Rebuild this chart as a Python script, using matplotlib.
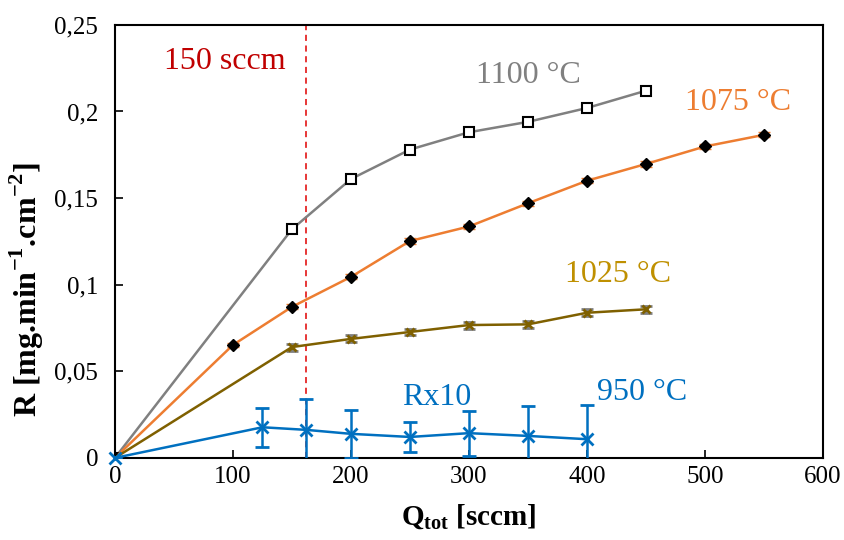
import matplotlib
matplotlib.use("Agg")
import matplotlib.pyplot as plt

plt.rcParams['font.family'] = ['Liberation Serif', 'DejaVu Serif']
plt.rcParams['mathtext.fontset'] = 'custom'
plt.rcParams['mathtext.rm'] = 'Liberation Serif'
plt.rcParams['mathtext.bf'] = 'Liberation Serif:bold'

# 1100 °C
q_1100 = [0, 150, 200, 250, 300, 350, 400, 450]
r_1100 = [0, 0.132, 0.161, 0.178, 0.188, 0.194, 0.202, 0.212]

# 1075 °C
q_1075 = [0, 100, 150, 200, 250, 300, 350, 400, 450, 500, 550]
r_1075 = [0, 0.0652, 0.0872, 0.1045, 0.1252, 0.1336, 0.147, 0.160, 0.1697, 0.1798, 0.1865]
e_1075 = [0, 0.0012, 0.0015, 0.0015, 0.0015, 0.0015, 0.0015, 0.0015, 0.0015, 0.0015, 0.0015]

# 1025 °C
q_1025 = [0, 150, 200, 250, 300, 350, 400, 450]
r_1025 = [0, 0.064, 0.0687, 0.0727, 0.0767, 0.0771, 0.0838, 0.0858]
e_1025 = [0, 0.002, 0.002, 0.002, 0.002, 0.002, 0.002, 0.002]

# 950 °C (Rx10)
q_950 = [0, 125, 162, 200, 250, 300, 350, 400]
r_950 = [0, 0.0177, 0.0162, 0.0139, 0.0121, 0.0143, 0.0127, 0.0108]
e_950 = [0, 0.0114, 0.0177, 0.0138, 0.0086, 0.013, 0.0173, 0.020]

q_limit = 162


def main():
    fig = plt.figure(figsize=(8.45, 5.4), dpi=100)
    ax = fig.add_axes([0.136, 0.152, 0.838, 0.802])

    ax.axvline(q_limit, color='#E00000', ls=(0, (4, 3)), lw=1.1, zorder=1)

    ax.plot(q_1100, r_1100, color='#808080', lw=1.8, marker='s', ms=7,
            mfc='white', mec='black', mew=1.5, zorder=3)

    ax.errorbar(q_1075, r_1075, yerr=e_1075, color='#ED7D31', lw=1.8,
                marker='D', ms=6, mfc='black', mec='black', ecolor='#ED7D31',
                capsize=4, elinewidth=1.5, zorder=3)

    ax.errorbar(q_1025, r_1025, yerr=e_1025, color='#7F6000', lw=1.8,
                marker='x', ms=6, mec='#7F6000', mew=2, ecolor='#808080',
                capsize=4, elinewidth=1.5, zorder=3)

    bl = ax.errorbar(q_950, r_950, yerr=e_950, color='#0070C0', lw=1.8,
                     marker='x', ms=8, mew=2, ecolor='#0070C0',
                     capsize=5, elinewidth=1.8, capthick=1.8, zorder=4)
    bl[0].set_clip_on(False)

    fs = 23
    ax.text(93, 0.229, '150 sccm', color='#C00000', fontsize=fs, ha='center', va='center')
    ax.text(350, 0.221, '1100 °C', color='#808080', fontsize=fs, ha='center', va='center')
    ax.text(528, 0.205, '1075 °C', color='#ED7D31', fontsize=fs, ha='center', va='center')
    ax.text(426, 0.1057, '1025 °C', color='#BF9000', fontsize=fs, ha='center', va='center')
    ax.text(273, 0.0346, 'Rx10', color='#0070C0', fontsize=fs, ha='center', va='center')
    ax.text(447, 0.0375, '950 °C', color='#0070C0', fontsize=fs, ha='center', va='center')

    ax.set_xlim(0, 600)
    ax.set_ylim(0, 0.25)
    ax.set_xticks(range(0, 601, 100))
    ax.set_yticks([0, 0.05, 0.1, 0.15, 0.2, 0.25])
    ax.set_yticklabels(['0', '0,05', '0,1', '0,15', '0,2', '0,25'])
    ax.tick_params(direction='in', length=6, width=1.2, labelsize=18,
                   colors='black')
    ax.tick_params(axis='x', pad=6)
    ax.tick_params(axis='y', pad=12)
    for s in ax.spines.values():
        s.set_linewidth(1.5)
        s.set_color('black')

    ax.set_xlabel(r'Q$_{\mathbf{tot}}$ [sccm]', fontsize=21, fontweight='bold', labelpad=10)
    ax.set_ylabel(r'R [mg.min$^{\mathbf{-1}}$.cm$^{\mathbf{-2}}$]', fontsize=23,
                  fontweight='bold', labelpad=8)
    ax.yaxis.set_label_coords(-0.098, 0.39)

    fig.savefig('out.png', dpi=100)


if __name__ == "__main__":
    main()
